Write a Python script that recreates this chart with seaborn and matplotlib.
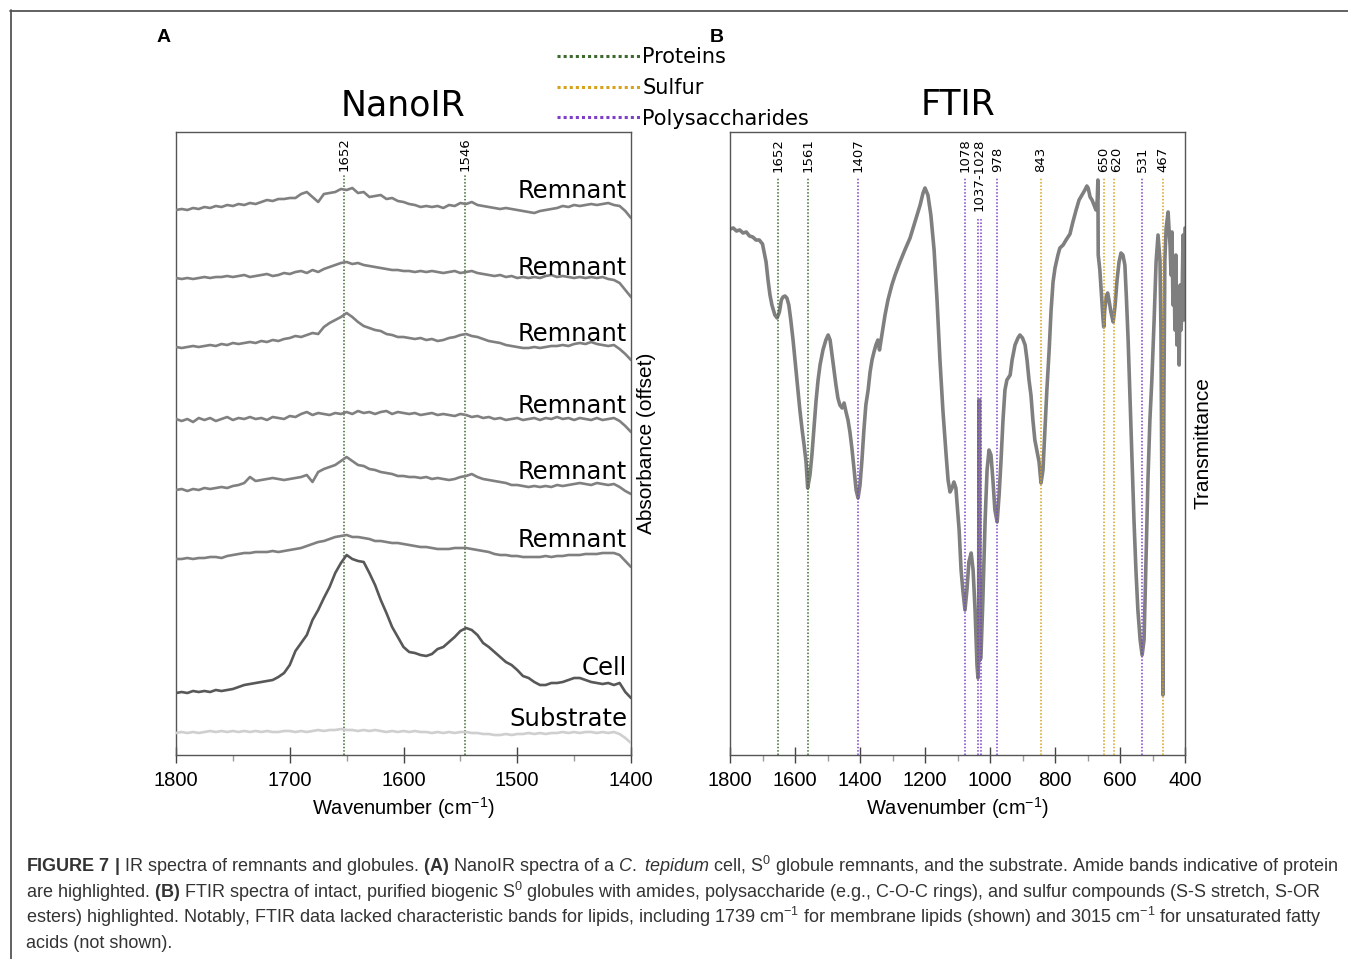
import numpy as np
import pandas as pd
import matplotlib
matplotlib.use("Agg")
import matplotlib.pyplot as plt
from matplotlib.lines import Line2D
from matplotlib.ticker import MultipleLocator
import seaborn as sns

# ---------------- data ----------------
nano_wavenumbers = list(range(1800, 1399, -5))

remnant_1 = [545, 546, 545, 547, 546, 548, 547, 549, 548, 550, 549, 551, 550, 552, 551, 553, 555, 554, 556, 556,
             557, 557, 561, 563, 558, 553, 561, 562, 563, 566, 565, 567, 562, 563, 558, 559, 560, 556, 557, 554,
             553, 551, 550, 548, 549, 548, 549, 547, 550, 549, 552, 551, 553, 550, 549, 548, 547, 546, 547, 546,
             545, 544, 543, 542, 544, 545, 546, 547, 549, 548, 550, 549, 550, 551, 550, 551, 552, 550, 549, 544, 537]
remnant_2 = [477, 476, 477, 476, 477, 478, 477, 478, 478, 479, 478, 479, 480, 478, 479, 480, 481, 479, 480, 482,
             481, 483, 484, 482, 485, 483, 486, 488, 490, 492, 493, 491, 492, 490, 489, 488, 487, 486, 485, 485,
             484, 484, 483, 484, 483, 484, 483, 482, 483, 484, 482, 483, 484, 482, 481, 480, 479, 480, 478, 479,
             477, 478, 477, 478, 477, 479, 480, 478, 479, 478, 477, 478, 477, 478, 477, 478, 476, 475, 472, 465, 458]
remnant_3 = [408, 407, 408, 409, 408, 409, 410, 409, 411, 410, 412, 411, 412, 413, 412, 414, 413, 415, 414, 416,
             417, 419, 418, 420, 422, 421, 428, 432, 435, 438, 442, 438, 433, 429, 427, 425, 424, 421, 420, 418,
             418, 417, 416, 417, 415, 416, 414, 415, 417, 418, 420, 421, 419, 418, 416, 414, 413, 412, 410, 409,
             408, 407, 407, 408, 407, 408, 409, 409, 410, 409, 411, 412, 411, 413, 411, 410, 409, 410, 406, 401, 395]
remnant_4 = [336, 334, 336, 333, 337, 335, 337, 334, 336, 338, 335, 337, 336, 338, 336, 337, 335, 338, 337, 336,
             339, 338, 341, 343, 340, 342, 341, 340, 342, 341, 343, 341, 344, 342, 343, 341, 343, 344, 341, 343,
             342, 341, 342, 340, 341, 342, 340, 341, 340, 339, 341, 340, 338, 339, 337, 338, 336, 337, 335, 336,
             337, 335, 336, 337, 335, 337, 336, 338, 336, 337, 335, 337, 336, 335, 337, 335, 336, 337, 334, 329, 323]
remnant_5 = [265, 266, 264, 266, 265, 267, 266, 267, 268, 267, 269, 270, 272, 278, 274, 275, 276, 277, 276, 275,
             276, 277, 278, 280, 273, 283, 286, 288, 290, 294, 298, 294, 290, 289, 286, 285, 283, 282, 281, 279,
             279, 278, 278, 277, 278, 276, 277, 276, 275, 276, 278, 279, 281, 278, 276, 275, 274, 273, 272, 270,
             270, 269, 268, 269, 268, 269, 268, 270, 269, 270, 271, 272, 271, 270, 272, 271, 270, 271, 268, 264, 261]
remnant_6 = [196, 196, 197, 196, 197, 197, 198, 198, 197, 199, 200, 201, 202, 202, 203, 203, 203, 204, 203, 204,
             205, 206, 207, 209, 211, 213, 214, 216, 218, 219, 220, 218, 218, 217, 216, 214, 214, 213, 212, 212,
             211, 210, 209, 208, 208, 207, 206, 206, 206, 207, 207, 207, 206, 205, 204, 203, 201, 200, 200, 199,
             199, 198, 198, 198, 198, 199, 198, 199, 199, 200, 200, 200, 201, 201, 201, 202, 202, 202, 200, 194, 188]
cell = [62, 63, 62, 64, 63, 64, 63, 65, 64, 65, 66, 68, 70, 71, 72, 73, 74, 75, 78, 82,
        90, 104, 112, 120, 135, 145, 157, 168, 182, 192, 200, 196, 194, 193, 182, 170, 155, 142, 128, 118,
        108, 103, 102, 100, 99, 101, 106, 108, 113, 118, 124, 127, 125, 120, 112, 108, 103, 98, 93, 90,
        85, 79, 77, 73, 70, 70, 72, 72, 73, 75, 77, 77, 75, 73, 72, 71, 72, 70, 72, 63, 57]
substrate = [22, 23, 22, 23, 22, 23, 24, 23, 24, 23, 24, 23, 24, 23, 24, 23, 24, 23, 23, 24,
             24, 23, 24, 23, 24, 25, 24, 25, 25, 26, 25, 25, 24, 25, 24, 25, 24, 23, 24, 23,
             24, 23, 24, 23, 23, 22, 23, 22, 23, 22, 23, 23, 22, 22, 21, 21, 20, 20, 21, 20,
             21, 21, 22, 21, 22, 21, 22, 22, 23, 22, 23, 22, 23, 23, 22, 23, 22, 23, 21, 17, 12]

nano_series = ["Remnant 1", "Remnant 2", "Remnant 3", "Remnant 4", "Remnant 5", "Remnant 6", "Cell", "Substrate"]
nano_labels = ["Remnant", "Remnant", "Remnant", "Remnant", "Remnant", "Remnant", "Cell", "Substrate"]
nano_bands = [1652, 1546]

ftir_wavenumbers = [1800, 1790, 1780, 1770, 1760, 1750, 1740, 1730, 1720, 1710, 1700, 1695, 1689, 1683, 1677, 1671,
                    1662, 1655, 1648, 1642, 1637, 1631, 1625, 1619, 1613, 1606, 1600, 1591, 1585, 1578, 1572, 1566,
                    1561, 1554, 1548, 1542, 1535, 1529, 1523, 1514, 1505, 1498, 1492, 1486, 1480, 1474, 1468, 1462,
                    1455, 1449, 1443, 1437, 1431, 1425, 1418, 1412, 1406, 1400, 1394, 1388, 1382, 1375, 1369, 1363,
                    1357, 1351, 1345, 1340, 1335, 1323, 1314, 1302, 1292, 1277, 1262, 1246, 1231, 1215, 1206, 1200,
                    1191, 1182, 1172, 1163, 1154, 1145, 1135, 1129, 1123, 1117, 1111, 1105, 1095, 1089, 1083, 1077,
                    1071, 1065, 1058, 1052, 1046, 1040, 1037, 1035, 1034, 1032, 1031, 1028, 1022, 1015, 1009, 1003,
                    997, 991, 985, 978, 972, 966, 960, 954, 948, 938, 932, 923, 914, 908, 900, 892,
                    886, 880, 874, 868, 862, 855, 849, 843, 837, 831, 825, 818, 812, 806, 800, 791,
                    785, 775, 766, 754, 745, 735, 726, 717, 708, 702, 698, 692, 686, 680, 674, 670,
                    668, 667, 662, 657, 652, 650, 647, 642, 638, 634, 628, 621, 615, 609, 603, 597,
                    591, 585, 580, 575, 569, 563, 557, 551, 545, 538, 532, 526, 520, 514, 508, 502,
                    495, 489, 483, 477, 474, 471, 468, 465, 462, 458, 455, 452, 449, 446, 443, 440,
                    437, 434, 431, 428, 425, 421, 418, 415, 412, 409, 406, 403, 400]
ftir_transmittance = [526, 527, 524, 525, 522, 523, 519, 518, 515, 515, 511, 503, 493, 475, 460, 450,
                      440, 437, 443, 455, 458, 459, 457, 450, 435, 415, 395, 365, 345, 325, 310, 293,
                      267, 280, 300, 325, 355, 375, 390, 405, 415, 420, 415, 400, 385, 370, 357, 350,
                      347, 352, 343, 335, 323, 307, 285, 265, 257, 270, 295, 325, 350, 365, 383, 395,
                      403, 410, 415, 405, 415, 440, 455, 470, 480, 493, 505, 517, 533, 550, 562, 567,
                      560, 540, 505, 455, 395, 345, 300, 275, 263, 267, 273, 267, 225, 185, 163, 145,
                      165, 193, 202, 185, 145, 90, 77, 95, 355, 355, 95, 97, 155, 235, 285, 305,
                      300, 275, 245, 233, 260, 295, 335, 365, 375, 380, 395, 410, 417, 420, 417, 410,
                      395, 375, 360, 335, 315, 303, 293, 272, 285, 325, 365, 405, 445, 473, 487, 500,
                      507, 510, 515, 521, 533, 545, 555, 560, 565, 569, 567, 558, 555, 550, 545, 555,
                      575, 500, 485, 460, 435, 428, 445, 459, 462, 455, 443, 433, 450, 475, 493, 502,
                      500, 490, 455, 415, 355, 295, 235, 185, 145, 115, 100, 115, 195, 275, 335, 375,
                      435, 493, 520, 495, 425, 255, 60, 355, 495, 527, 535, 543, 525, 510, 480, 523,
                      450, 495, 425, 500, 410, 455, 390, 470, 425, 455, 520, 435, 527]

ftir_bands = [1652, 1561, 1407, 1078, 1037, 1028, 978, 843, 650, 620, 531, 467]
ftir_band_groups = ["Proteins", "Proteins", "Polysaccharides", "Polysaccharides", "Polysaccharides",
                    "Polysaccharides", "Polysaccharides", "Sulfur", "Sulfur", "Sulfur", "Polysaccharides", "Sulfur"]
ftir_band_labels = ["1652", "1561", "1407", "1078", "1037-1028", "978", "843", "650", "620", "531", "467"]
ftir_label_positions = [1652, 1561, 1407, 1078, (1037 + 1028) / 2, 978, 843, 650, 620, 531, 467]

legend_groups = ["Proteins", "Sulfur", "Polysaccharides"]

caption_lines = [
    r"$\mathbf{FIGURE\ 7\ |}$ IR spectra of remnants and globules. $\mathbf{(A)}$ NanoIR spectra of a "
    r"$\mathit{C.\ tepidum}$ cell, S$^{0}$ globule remnants, and the substrate. Amide bands indicative of protein",
    r"are highlighted. $\mathbf{(B)}$ FTIR spectra of intact, purified biogenic S$^{0}$ globules with amides, "
    r"polysaccharide (e.g., C-O-C rings), and sulfur compounds (S-S stretch, S-OR",
    r"esters) highlighted. Notably, FTIR data lacked characteristic bands for lipids, including 1739 cm$^{-1}$ "
    r"for membrane lipids (shown) and 3015 cm$^{-1}$ for unsaturated fatty",
    r"acids (not shown).",
]

# ---------------- style ----------------
sns.set_style("white")
plt.rcParams["font.family"] = ["DejaVu Sans"]
plt.rcParams["text.color"] = "black"
plt.rcParams["axes.labelcolor"] = "black"
plt.rcParams["xtick.labelcolor"] = "black"
plt.rcParams["mathtext.fontset"] = "custom"
plt.rcParams["mathtext.rm"] = "Liberation Sans"
plt.rcParams["mathtext.it"] = "Liberation Sans:italic"
plt.rcParams["mathtext.bf"] = "Liberation Sans:bold"

group_colors = {"Proteins": "#3c6a2c", "Sulfur": "#d6a21c", "Polysaccharides": "#7d3fc8"}
series_colors = {s: "#808080" for s in nano_series[:6]}
series_colors["Cell"] = "#585858"
series_colors["Substrate"] = "#cfcfcf"

W, H = 1348, 959
fig = plt.figure(figsize=(W / 100, H / 100), dpi=100)
axA = fig.add_axes([176 / W, 1 - 755 / H, 455 / W, 623 / H])
axB = fig.add_axes([730 / W, 1 - 755 / H, 455 / W, 623 / H])

# ---------------- panel A ----------------
nano_values = [remnant_1, remnant_2, remnant_3, remnant_4, remnant_5, remnant_6, cell, substrate]
df_nano = pd.concat(
    [pd.DataFrame({"wavenumber": nano_wavenumbers, "absorbance": v, "spectrum": s})
     for s, v in zip(nano_series, nano_values)], ignore_index=True)
sns.lineplot(data=df_nano, x="wavenumber", y="absorbance", hue="spectrum", palette=series_colors,
             estimator=None, linewidth=1.9, legend=False, ax=axA, zorder=3)

for b in nano_bands:
    axA.axvline(b, ymin=0, ymax=0.932, color=group_colors["Proteins"], ls=(0, (1, 1.2)), lw=1.1, zorder=2)
    axA.text(b, 0.938, str(b), rotation=90, ha="center", va="bottom", fontsize=9.5,
             transform=axA.get_xaxis_transform())

idx_1410 = nano_wavenumbers.index(1410)
for lab, v in zip(nano_labels, nano_values):
    axA.annotate(lab, xy=(0.991, v[idx_1410]), xycoords=("axes fraction", "data"),
                 xytext=(0, 6), textcoords="offset points", ha="right", va="baseline", fontsize=17.5)

axA.set_xlim(1800, 1400)
axA.set_ylim(0, 623)
axA.set_title("NanoIR", fontsize=25, pad=12)
axA.set_ylabel("Absorbance (offset)", fontsize=15, family="Liberation Sans", labelpad=4)
axA.yaxis.set_label_position("right")
axA.xaxis.set_major_locator(MultipleLocator(100))
axA.xaxis.set_minor_locator(MultipleLocator(50))

# ---------------- panel B ----------------
sns.lineplot(x=ftir_wavenumbers, y=ftir_transmittance, color="#7f7f7f", linewidth=2.6,
             estimator=None, ax=axB, zorder=2)
for b, g in zip(ftir_bands, ftir_band_groups):
    top = 0.862 if b in (1037, 1028) else 0.928
    axB.axvline(b, ymin=0, ymax=top, color=group_colors[g], ls=(0, (1, 1.2)), lw=1.1, zorder=3)
for lab, pos in zip(ftir_band_labels, ftir_label_positions):
    ybot = 0.873 if "-" in lab else 0.936
    dx = 2 if lab == "620" else 0
    axB.annotate(lab, xy=(pos, ybot), xycoords=axB.get_xaxis_transform(), xytext=(dx, 0),
                 textcoords="offset points", rotation=90, ha="center", va="bottom", fontsize=9.5)

axB.set_xlim(1800, 400)
axB.set_ylim(0, 623)
axB.set_title("FTIR", fontsize=25, pad=12)
axB.set_ylabel("Transmittance", fontsize=15, family="Liberation Sans", labelpad=6)
axB.yaxis.set_label_position("right")
axB.xaxis.set_major_locator(MultipleLocator(200))
axB.xaxis.set_minor_locator(MultipleLocator(100))

for ax in (axA, axB):
    ax.set_yticks([])
    ax.set_xlabel("Wavenumber (cm$^{-1}$)", fontsize=14.5, family="Liberation Sans", labelpad=4)
    ax.tick_params(axis="x", which="major", direction="inout", length=11, width=1, color="#444444",
                   labelsize=14.5, pad=6, labelfontfamily="Liberation Sans", labelcolor="black", bottom=True)
    ax.tick_params(axis="x", which="minor", direction="out", length=4, width=1, color="#9a9a9a", bottom=True)
    for sp in ax.spines.values():
        sp.set_color("#555555")
        sp.set_linewidth(1.0)

# ---------------- legend ----------------
handles = [Line2D([], [], color=group_colors[g], ls=(0, (1, 1)), lw=2.2) for g in legend_groups]
fig.legend(handles, legend_groups, loc="upper left", bbox_to_anchor=(557 / W, 1 - 47 / H),
           frameon=False, fontsize=15, handlelength=4.0, handletextpad=0.1, labelspacing=0.52,
           borderpad=0, borderaxespad=0)

# ---------------- panel letters, frame, caption ----------------
fig.text(164 / W, 1 - 37 / H, "A", fontsize=14, fontweight="bold", family="Liberation Sans",
         ha="center", va="center")
fig.text(717 / W, 1 - 37 / H, "B", fontsize=14, fontweight="bold", family="Liberation Sans",
         ha="center", va="center")

fig.add_artist(Line2D([10 / W, 1], [1 - 10.5 / H, 1 - 10.5 / H], transform=fig.transFigure,
                      color="#555555", lw=1.3))
fig.add_artist(Line2D([10.5 / W, 10.5 / W], [0, 1 - 10 / H], transform=fig.transFigure,
                      color="#555555", lw=1.3))

for i, line in enumerate(caption_lines):
    fig.text(26 / W, 1 - (872 + 25.5 * i) / H, line, fontsize=13, family="Liberation Sans",
             color="#333333", ha="left", va="baseline")

fig.savefig("out.png", dpi=100)
